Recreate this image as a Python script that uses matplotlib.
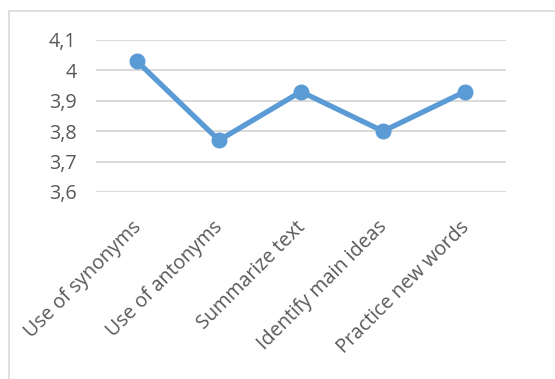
import matplotlib.pyplot as plt
from matplotlib.patches import Rectangle
from matplotlib.transforms import ScaledTranslation

# Data
categories = ["Use of synonyms", "Use of antonyms", "Summarize text",
              "Identify main ideas", "Practice new words"]
values = [4.03, 3.77, 3.93, 3.80, 3.93]
y_ticks = [3.6, 3.7, 3.8, 3.9, 4.0, 4.1]
y_labels = ["3,6", "3,7", "3,8", "3,9", "4", "4,1"]

plt.rcParams["font.family"] = ["Open Sans", "DejaVu Sans"]

W, H = 555, 379
fig = plt.figure(figsize=(W / 100, H / 100), dpi=100)

# chart border (Excel-style frame, runs off the right/bottom edge)
fig.patches.append(Rectangle((9 / W, -0.1), 1.2, 1 - 11 / H + 0.1,
                             transform=fig.transFigure, fill=False,
                             edgecolor="#D9D9D9", linewidth=1.2))

ax = fig.add_axes([96 / W, 1 - 192 / H, (506 - 96) / W, (192 - 40) / H])
x = range(len(categories))
ax.plot(x, values, color="#5B9BD5", linewidth=3.8, marker="o",
        markersize=10.5, solid_capstyle="round", zorder=3)

ax.set_xlim(-0.5, len(categories) - 0.5)
ax.set_ylim(3.6, 4.1)
ax.set_yticks(y_ticks)
ax.set_yticklabels(y_labels)
ax.set_xticks(list(x))
ax.set_xticklabels(categories, rotation=45, ha="right", va="top",
                   rotation_mode="anchor")

ax.grid(axis="y", color="#D9D9D9", linewidth=1.4)
ax.set_axisbelow(True)
for s in ax.spines.values():
    s.set_visible(False)
ax.tick_params(axis="both", length=0, labelsize=14.2, colors="#595959")
ax.tick_params(axis="y", pad=14)
ax.tick_params(axis="x", pad=18)

# nudge rotated labels slightly left, like Excel places them
shift = ScaledTranslation(-6 / 100, 0, fig.dpi_scale_trans)
for lbl in ax.get_xticklabels():
    lbl.set_transform(lbl.get_transform() + shift)

plt.savefig("out.png", dpi=100)
